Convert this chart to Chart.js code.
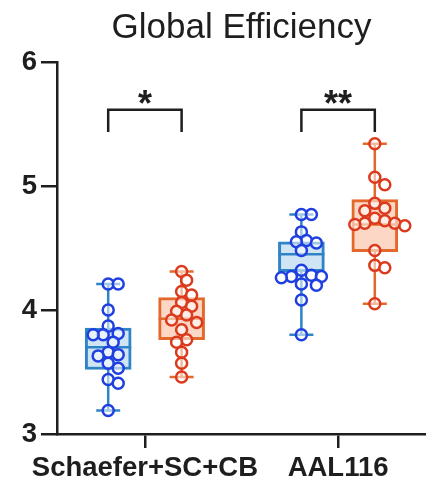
<!DOCTYPE html>
<html>
<head>
<meta charset="utf-8">
<script src="https://cdn.jsdelivr.net/npm/chart.js@4.4.1/dist/chart.umd.min.js"></script>
<style>
  html, body { margin: 0; padding: 0; background: #ffffff; }
  #c { display: block; }
</style>
</head>
<body>
<canvas id="c" width="426" height="487"></canvas>
<script>
// ---- data ----
const categories = ['Schaefer+SC+CB', 'AAL116'];
const significance = ['*', '**'];
const yTicks = [3, 4, 5, 6];

// individual subject values, blue group
const blueSchaefer = [4.21, 4.21, 4.00, 3.87, 3.81, 3.80, 3.80, 3.74, 3.66, 3.64, 3.63, 3.57, 3.53, 3.44, 3.41, 3.19];
const blueAAL      = [4.77, 4.77, 4.63, 4.56, 4.55, 4.54, 4.48, 4.32, 4.28, 4.27, 4.27, 4.26, 4.21, 4.20, 4.08, 3.80];
// individual subject values, red group
const redSchaefer  = [4.31, 4.24, 4.15, 4.12, 4.06, 4.03, 3.99, 3.96, 3.92, 3.90, 3.84, 3.76, 3.74, 3.66, 3.57, 3.46];
const redAAL       = [5.34, 5.07, 5.01, 4.86, 4.82, 4.80, 4.74, 4.72, 4.70, 4.70, 4.69, 4.68, 4.48, 4.36, 4.34, 4.05];

// box statistics per atlas: 25th percentile, median, 75th percentile
const blueQ1     = [3.52, 4.31];
const blueMedian = [3.70, 4.45];
const blueQ3     = [3.855, 4.55];
const redQ1      = [3.76, 4.47];
const redMedian  = [3.93, 4.69];
const redQ3      = [4.10, 4.89];

// ---- styling ----
const FONT = "'Liberation Sans', Arial, Helvetica, sans-serif";
const INK = '#1e1e1e';
const SIDE_OFFSET = 0.19;      // distance of each box from the category centre (x units)
const BOX_WIDTH = 46;          // px
const CAP_WIDTH = 24;          // px
const POINT_RADIUS = 5.5;

const series = [
  { name: 'blue', points: [blueSchaefer, blueAAL], q1: blueQ1, med: blueMedian, q3: blueQ3,
    side: -SIDE_OFFSET, line: '#2f84c6', fill: '#cfe4f5', dot: '#1f3fe0' },
  { name: 'red', points: [redSchaefer, redAAL], q1: redQ1, med: redMedian, q3: redQ3,
    side: SIDE_OFFSET, line: '#e2692b', fill: '#fcd7c5', dot: '#dc3a1d' }
];

const boxDatasets = series.map(s => ({
  type: 'bar',
  label: s.name + ' box',
  data: categories.map((c, i) => ({ x: i + 1 + s.side, y: [s.q1[i], s.q3[i]] })),
  backgroundColor: s.fill,
  borderColor: s.line,
  borderWidth: 3,
  borderSkipped: false,
  barThickness: BOX_WIDTH,
  grouped: false,
  order: 2
}));

const pointDatasets = series.map(s => ({
  type: 'scatter',
  label: s.name + ' subjects',
  data: categories.flatMap((c, i) => s.points[i].map(v => ({ x: i + 1 + s.side, y: v }))),
  pointRadius: POINT_RADIUS,
  pointBorderWidth: 2.5,
  pointBorderColor: s.dot,
  pointBackgroundColor: 'rgba(255,255,255,0.55)',
  order: 0
}));

// whiskers, medians, significance brackets
const boxExtras = {
  id: 'boxExtras',
  beforeDatasetsDraw(chart) {
    const { ctx, scales: { x, y } } = chart;
    ctx.save();
    ctx.lineWidth = 2.5;
    series.forEach(s => {
      ctx.strokeStyle = s.line;
      categories.forEach((c, i) => {
        const vals = s.points[i];
        const lo = Math.min(...vals), hi = Math.max(...vals);
        const px = x.getPixelForValue(i + 1 + s.side);
        const segs = [[lo, s.q1[i]], [s.q3[i], hi]];
        ctx.beginPath();
        segs.forEach(([a, b]) => {
          ctx.moveTo(px, y.getPixelForValue(a));
          ctx.lineTo(px, y.getPixelForValue(b));
        });
        [lo, hi].forEach(v => {
          const py = y.getPixelForValue(v);
          ctx.moveTo(px - CAP_WIDTH / 2, py);
          ctx.lineTo(px + CAP_WIDTH / 2, py);
        });
        ctx.stroke();
      });
    });
    ctx.restore();
  },
  afterDatasetDraw(chart, args) {
    const ds = chart.data.datasets[args.index];
    if (ds.type !== 'bar') return;
    const s = series[args.index];
    const { ctx, scales: { x, y } } = chart;
    ctx.save();
    ctx.strokeStyle = s.line;
    ctx.lineWidth = 2.5;
    ctx.beginPath();
    categories.forEach((c, i) => {
      const px = x.getPixelForValue(i + 1 + s.side);
      const py = y.getPixelForValue(s.med[i]);
      ctx.moveTo(px - BOX_WIDTH / 2, py);
      ctx.lineTo(px + BOX_WIDTH / 2, py);
    });
    ctx.stroke();
    ctx.restore();
  },
  afterDraw(chart) {
    const { ctx, scales: { x, y } } = chart;
    const top = y.getPixelForValue(5.615);
    const leg = y.getPixelForValue(5.435);
    ctx.save();
    ctx.strokeStyle = INK;
    ctx.fillStyle = INK;
    ctx.lineWidth = 2.5;
    ctx.font = 'bold 36px ' + FONT;
    ctx.textAlign = 'center';
    ctx.textBaseline = 'alphabetic';
    categories.forEach((c, i) => {
      const x1 = x.getPixelForValue(i + 1 - SIDE_OFFSET);
      const x2 = x.getPixelForValue(i + 1 + SIDE_OFFSET);
      ctx.beginPath();
      ctx.moveTo(x1, leg);
      ctx.lineTo(x1, top);
      ctx.lineTo(x2, top);
      ctx.lineTo(x2, leg);
      ctx.stroke();
      ctx.fillText(significance[i], (x1 + x2) / 2, y.getPixelForValue(5.6) + 4);
    });
    ctx.restore();
  }
};

const chart = new Chart(document.getElementById('c'), {
  type: 'bar',
  data: { datasets: [...boxDatasets, ...pointDatasets] },
  plugins: [boxExtras],
  options: {
    responsive: false,
    animation: false,
    layout: { padding: 0, autoPadding: false },
    plugins: {
      legend: { display: false },
      tooltip: { enabled: false },
      title: {
        display: true,
        text: 'Global Efficiency',
        fullSize: false,
        color: INK,
        font: { family: FONT, size: 35, weight: 'normal' },
        padding: { top: 7, bottom: 13 }
      }
    },
    scales: {
      x: {
        type: 'linear',
        offset: false,
        min: 0.545,
        max: 2.455,
        afterBuildTicks(scale) { scale.ticks = categories.map((c, i) => ({ value: i + 1 })); },
        afterFit(scale) {
          scale.height = 53;
          scale.paddingLeft = 0;
          scale.paddingRight = 0;
        },
        ticks: {
          callback: v => categories[v - 1],
          color: INK,
          font: { family: FONT, size: 27.5, weight: 'bold' },
          padding: 4,
          maxRotation: 0,
          autoSkip: false
        },
        grid: { offset: false, drawOnChartArea: false, drawTicks: true, tickLength: 14, color: INK, lineWidth: 2.5 },
        border: { display: true, color: INK, width: 2.5 }
      },
      y: {
        min: 3,
        max: 6,
        afterBuildTicks(scale) { scale.ticks = yTicks.map(v => ({ value: v })); },
        afterFit(scale) {
          scale.width = 57;
          scale.paddingTop = 0;
          scale.paddingBottom = 0;
        },
        ticks: {
          color: INK,
          font: { family: FONT, size: 27.5, weight: 'bold' },
          padding: 4
        },
        grid: { drawOnChartArea: false, drawTicks: true, tickLength: 16, color: INK, lineWidth: 2.5 },
        border: { display: true, color: INK, width: 2.5 }
      }
    }
  }
});

// spread the subject points sideways so overlapping circles stay visible
function swarm(values, centre, xScale, yScale) {
  const minDist = 10, step = 5;
  const cx = xScale.getPixelForValue(centre);
  const placed = [];
  const result = new Array(values.length);
  const order = values.map((v, i) => i).sort((a, b) => values[b] - values[a]);
  order.forEach(i => {
    const py = yScale.getPixelForValue(values[i]);
    for (let k = 0; k < 40; k++) {
      const cands = k === 0 ? [0] : [k * step, -k * step];
      let found = null;
      for (const dx of cands) {
        const ok = placed.every(p => Math.hypot(p.x - (cx + dx), p.y - py) >= minDist);
        if (ok) { found = dx; break; }
      }
      if (found !== null) {
        placed.push({ x: cx + found, y: py });
        result[i] = { x: xScale.getValueForPixel(cx + found), y: values[i] };
        break;
      }
    }
  });
  return result;
}

series.forEach((s, si) => {
  const ds = chart.data.datasets[boxDatasets.length + si];
  ds.data = categories.flatMap((c, i) => swarm(s.points[i], i + 1 + s.side, chart.scales.x, chart.scales.y));
});
chart.update('none');
</script>
</body>
</html>
